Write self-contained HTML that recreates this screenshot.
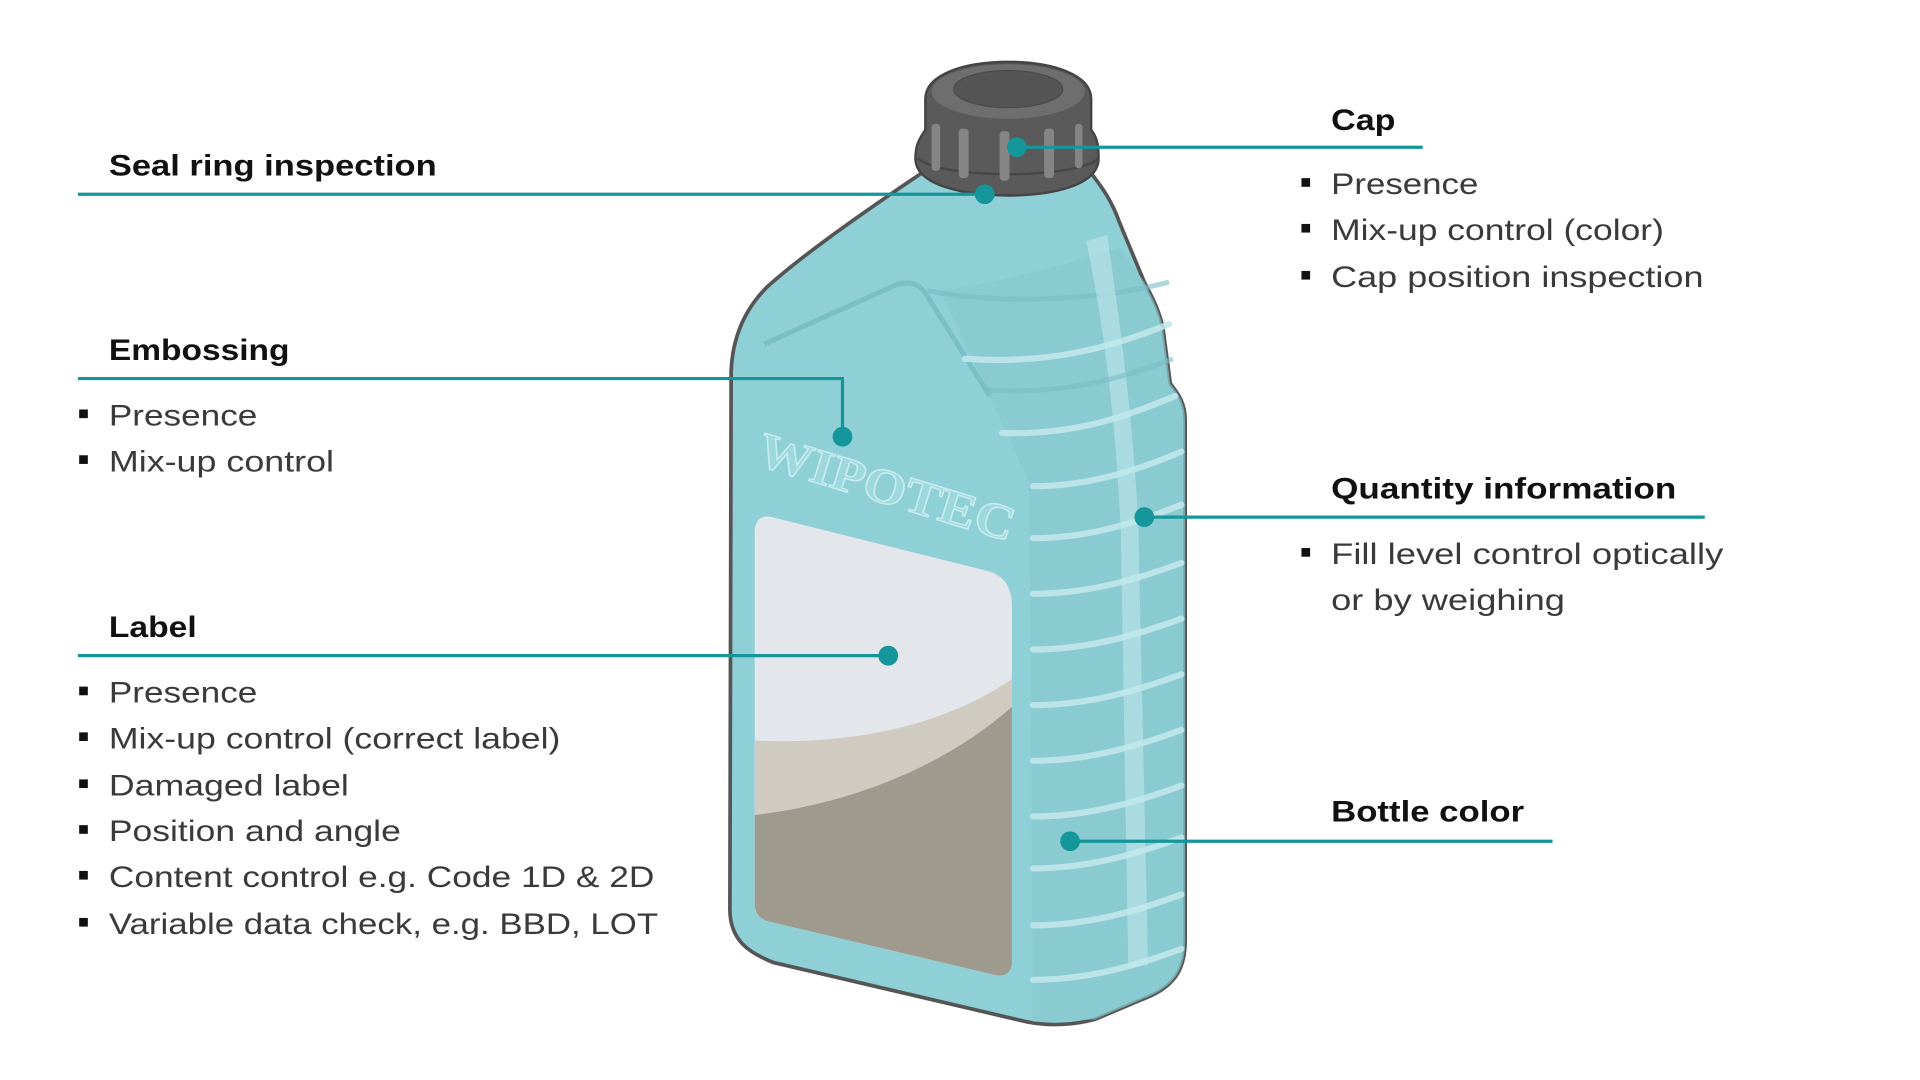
<!DOCTYPE html>
<html><head><meta charset="utf-8"><style>
html,body{margin:0;padding:0;background:#fff;}
svg{display:block;}
.h{font-family:"Liberation Sans",sans-serif;font-weight:bold;font-size:24px;fill:#111;}
.t{font-family:"Liberation Sans",sans-serif;font-size:24px;fill:#3a3a3a;}
.ln{stroke:#14969b;stroke-width:2.6;fill:none;}
.dot{fill:#14969b;}
.rib{stroke:#c2e9ec;stroke-width:5;fill:none;stroke-linecap:round;opacity:.85}
.ribd{stroke:#79bcc4;stroke-width:4;fill:none;opacity:.6}
</style></head><body>
<svg width="1920" height="1080" viewBox="0 0 1552 873" xmlns="http://www.w3.org/2000/svg">
<rect width="1552" height="873" fill="#fff"/>
<path d="M748,138 C700,170 650,205 620,232 C600,252 592,275 591,300 L590,735 C590,760 605,770 625,778 L830,826 C850,830 870,828 885,824 L930,805 C952,795 958,780 958,760 L958,340 C958,325 952,318 946,310 L940,265 C937,250 930,238 925,228 L905,180 C898,160 888,148 882,140 Z" fill="#8fd0d7" stroke="#555" stroke-width="3"/>
<path d="M800,320 L832,390 L835,826 L885,824 L930,805 C952,795 958,780 958,760 L958,340 C958,325 952,318 946,310 L940,265 C937,250 930,238 925,228 L905,200 C860,215 800,230 760,235 Z" fill="#87c8cf" opacity=".7"/>
<path d="M618,278 L725,230 C740,226 745,232 750,240 L800,320" fill="none" stroke="#7abfc6" stroke-width="4"/>
<path d="M750,235 C800,245 880,245 945,228" class="ribd"/>
<path d="M878,195 L895,190 C905,260 915,330 920,420 L928,780 L912,782 L906,430 C902,340 892,260 878,195 Z" fill="#b8e3e8" opacity=".7"/>
<g>
<path class="rib" d="M780,290 C850,295 900,280 945,262"/>
<path class="ribd" d="M795,315 C860,320 910,305 948,290"/>
<path class="rib" d="M810,350 C870,352 915,335 950,320"/>
<path class="rib" d="M835,393 C880,393 920,380 955,365"/>
<path class="rib" d="M835,435 C880,435 920,422 955,408"/>
<path class="rib" d="M835,480 C880,480 920,468 955,455"/>
<path class="rib" d="M835,525 C880,525 920,513 955,500"/>
<path class="rib" d="M835,570 C880,570 920,558 955,545"/>
<path class="rib" d="M835,615 C880,615 920,603 955,590"/>
<path class="rib" d="M835,660 C880,660 920,648 955,635"/>
<path class="rib" d="M835,702 C880,702 920,690 955,677"/>
<path class="rib" d="M835,748 C880,748 920,736 955,723"/>
<path class="rib" d="M835,792 C880,792 920,780 955,767"/>
</g>
<clipPath id="lc"><path d="M624,418 L800,462 C812,466 818,475 818,490 L818,778 C818,786 812,790 804,788 L622,745 C614,743 610,738 610,730 L610,430 C610,420 616,416 624,418 Z"/></clipPath>
<g clip-path="url(#lc)">
<rect x="600" y="410" width="230" height="390" fill="#e3e6ea"/>
<path d="M600,598 C700,605 780,580 830,540 L830,800 L600,800 Z" fill="#cfcbc0"/>
<path d="M600,660 C700,650 780,610 830,560 L830,800 L600,800 Z" fill="#9f9a8e"/>
</g>
<text x="610" y="375" transform="rotate(17 610 375)" font-family="Liberation Serif,serif" font-weight="bold" font-size="40" fill="#9dd8de" stroke="#c7ecef" stroke-width="1.2" textLength="215" lengthAdjust="spacingAndGlyphs">WIPOTEC</text>
<path d="M740,128 C740,115 745,110 748,105 L748,80 C748,60 780,50 815,50 C850,50 882,60 882,80 L882,105 C886,110 888,115 888,128 C888,150 850,158 815,158 C780,158 740,150 740,128 Z" fill="#5a5a5a" stroke="#444" stroke-width="2"/>
<ellipse cx="815" cy="74" rx="62" ry="22" fill="#6e6e6e"/>
<ellipse cx="815" cy="72" rx="44" ry="15" fill="#555" stroke="#4a4a4a"/>
<path d="M742,128 C760,145 870,145 888,128" fill="none" stroke="#474747" stroke-width="2"/>
<g fill="#858585">
<rect x="753" y="100" width="7" height="38" rx="3"/>
<rect x="775" y="104" width="8" height="40" rx="3"/>
<rect x="808" y="106" width="8" height="40" rx="3"/>
<rect x="844" y="104" width="8" height="40" rx="3"/>
<rect x="869" y="100" width="6" height="36" rx="3"/>
</g>
<path class="ln" d="M63,157 L796,157"/><circle class="dot" cx="796" cy="157" r="8"/>
<path class="ln" d="M822,119 L1150,119"/><circle class="dot" cx="822" cy="119" r="8"/>
<path class="ln" d="M63,306 L681,306 L681,353"/><circle class="dot" cx="681" cy="353" r="8"/>
<path class="ln" d="M925,418 L1378,418"/><circle class="dot" cx="925" cy="418" r="8"/>
<path class="ln" d="M63,530 L718,530"/><circle class="dot" cx="718" cy="530" r="8"/>
<path class="ln" d="M865,680 L1255,680"/><circle class="dot" cx="865" cy="680" r="8"/>
<text class="h" x="88" y="142" textLength="265" lengthAdjust="spacingAndGlyphs">Seal ring inspection</text>
<text class="h" x="1076" y="105" textLength="52" lengthAdjust="spacingAndGlyphs">Cap</text>
<text class="h" x="88" y="291" textLength="146" lengthAdjust="spacingAndGlyphs">Embossing</text>
<text class="h" x="1076" y="403" textLength="279" lengthAdjust="spacingAndGlyphs">Quantity information</text>
<text class="h" x="88" y="515" textLength="71" lengthAdjust="spacingAndGlyphs">Label</text>
<text class="h" x="1076" y="664" textLength="156" lengthAdjust="spacingAndGlyphs">Bottle color</text>
<g fill="#111">
<rect x="1052" y="144" width="7" height="7"/><rect x="1052" y="181" width="7" height="7"/><rect x="1052" y="219" width="7" height="7"/>
<rect x="64" y="331" width="7" height="7"/><rect x="64" y="368" width="7" height="7"/>
<rect x="1052" y="443" width="7" height="7"/>
<rect x="64" y="555" width="7" height="7"/><rect x="64" y="592" width="7" height="7"/><rect x="64" y="630" width="7" height="7"/>
<rect x="64" y="667" width="7" height="7"/><rect x="64" y="704" width="7" height="7"/><rect x="64" y="742" width="7" height="7"/>
</g>
<text class="t" x="1076" y="157" textLength="119" lengthAdjust="spacingAndGlyphs">Presence</text>
<text class="t" x="1076" y="194" textLength="269" lengthAdjust="spacingAndGlyphs">Mix-up control (color)</text>
<text class="t" x="1076" y="232" textLength="301" lengthAdjust="spacingAndGlyphs">Cap position inspection</text>
<text class="t" x="88" y="344" textLength="120" lengthAdjust="spacingAndGlyphs">Presence</text>
<text class="t" x="88" y="381" textLength="182" lengthAdjust="spacingAndGlyphs">Mix-up control</text>
<text class="t" x="1076" y="456" textLength="317" lengthAdjust="spacingAndGlyphs">Fill level control optically</text>
<text class="t" x="1076" y="493" textLength="189" lengthAdjust="spacingAndGlyphs">or by weighing</text>
<text class="t" x="88" y="568" textLength="120" lengthAdjust="spacingAndGlyphs">Presence</text>
<text class="t" x="88" y="605" textLength="365" lengthAdjust="spacingAndGlyphs">Mix-up control (correct label)</text>
<text class="t" x="88" y="643" textLength="194" lengthAdjust="spacingAndGlyphs">Damaged label</text>
<text class="t" x="88" y="680" textLength="236" lengthAdjust="spacingAndGlyphs">Position and angle</text>
<text class="t" x="88" y="717" textLength="441" lengthAdjust="spacingAndGlyphs">Content control e.g. Code 1D &amp; 2D</text>
<text class="t" x="88" y="755" textLength="444" lengthAdjust="spacingAndGlyphs">Variable data check, e.g. BBD, LOT</text>
</svg>
</body></html>
